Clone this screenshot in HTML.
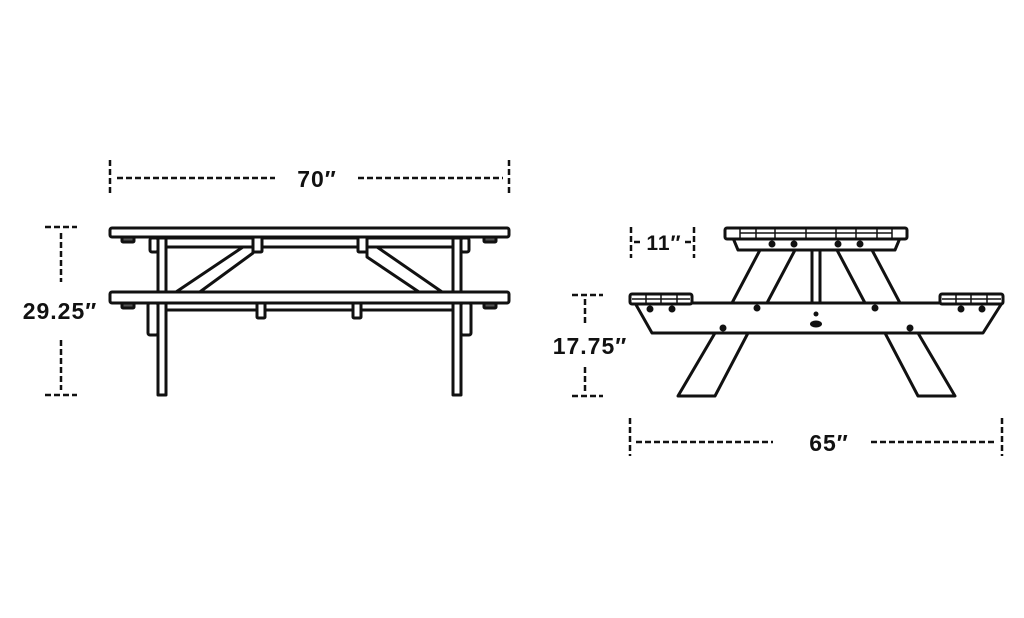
<!DOCTYPE html>
<html><head><meta charset="utf-8"><style>
html,body{margin:0;padding:0;background:#fff;}
svg{display:block}
text{font-family:"Liberation Sans",sans-serif;font-weight:bold;fill:#111;letter-spacing:1px}
</style></head><body>
<svg width="1024" height="618" viewBox="0 0 1024 618" xmlns="http://www.w3.org/2000/svg">
<g stroke="#111" stroke-width="2.5" fill="none" stroke-dasharray="6,3">
<line x1="110" y1="160" x2="110" y2="193"/>
<line x1="509" y1="160" x2="509" y2="193"/>
<line x1="117" y1="178" x2="275" y2="178"/>
<line x1="358" y1="178" x2="503" y2="178"/>
<line x1="45" y1="227" x2="77" y2="227"/>
<line x1="45" y1="395" x2="77" y2="395"/>
<line x1="61" y1="233" x2="61" y2="282"/>
<line x1="61" y1="340" x2="61" y2="390"/>
<line x1="631" y1="227" x2="631" y2="258"/>
<line x1="694" y1="227" x2="694" y2="258"/>
<line x1="634" y1="242" x2="640" y2="242"/>
<line x1="685" y1="242" x2="691" y2="242"/>
<line x1="572" y1="295" x2="603" y2="295"/>
<line x1="572" y1="396" x2="603" y2="396"/>
<line x1="585" y1="299" x2="585" y2="326"/>
<line x1="585" y1="367" x2="585" y2="393"/>
<line x1="630" y1="418" x2="630" y2="456"/>
<line x1="1002" y1="418" x2="1002" y2="456"/>
<line x1="636" y1="442" x2="773" y2="442"/>
<line x1="871" y1="442" x2="996" y2="442"/>
</g>
<text x="317" y="187" font-size="23" text-anchor="middle">70″</text>
<text x="60" y="319" font-size="23" text-anchor="middle">29.25″</text>
<text x="664" y="250" font-size="21" text-anchor="middle">11″</text>
<text x="590" y="354" font-size="23" text-anchor="middle">17.75″</text>
<text x="829" y="451" font-size="23" text-anchor="middle">65″</text>

<g stroke="#111" stroke-width="3" fill="#fff" stroke-linejoin="round">
<rect x="158" y="238" width="8" height="157"/>
<rect x="453" y="238" width="8" height="157"/>
<rect x="166" y="238" width="287" height="9"/>
<rect x="166" y="303" width="287" height="7"/>
<polygon points="173,294 243,247 253,247 253,253 197,294"/>
<polygon points="367,247 377,247 445,294 422,294 367,257"/>
<rect x="150" y="238" width="8" height="14" rx="2"/>
<rect x="461" y="238" width="8" height="14" rx="2"/>
<rect x="253" y="237" width="9" height="15" rx="1"/>
<rect x="358" y="237" width="9" height="15" rx="1"/>
<rect x="257" y="303" width="8" height="15" rx="1"/>
<rect x="353" y="303" width="8" height="15" rx="1"/>
<rect x="148" y="303" width="10" height="32" rx="2"/>
<rect x="461" y="303" width="10" height="32" rx="2"/>
<rect x="122" y="237" width="12" height="5" rx="1" fill="#555"/>
<rect x="484" y="237" width="12" height="5" rx="1" fill="#555"/>
<rect x="122" y="303" width="12" height="5" rx="1" fill="#555"/>
<rect x="484" y="303" width="12" height="5" rx="1" fill="#555"/>
<rect x="110" y="228" width="399" height="9" rx="2"/>
<rect x="110" y="292" width="399" height="11" rx="2"/>
</g>

<g stroke="#111" stroke-width="3" fill="#fff" stroke-linejoin="round">
<polygon points="732,303 760,250 795,250 767,303"/>
<polygon points="837,250 872,250 900,303 865,303"/>
<rect x="812" y="248" width="8" height="56"/>
<polygon points="715,333 748,333 715,396 678,396"/>
<polygon points="885,333 918,333 955,396 918,396"/>
<polygon points="635,303 1002,303 983,333 652,333"/>
<polygon points="733,238 900,238 895,250 738,250"/>
<rect x="725" y="228" width="182" height="11" rx="2"/>
<rect x="630" y="294" width="62" height="10" rx="2"/>
<rect x="940" y="294" width="63" height="10" rx="2"/>
</g>
<g stroke="#111" stroke-width="1.5">
<line x1="740" y1="233" x2="892" y2="233"/>
<line x1="740" y1="228" x2="740" y2="239"/><line x1="756" y1="228" x2="756" y2="239"/>
<line x1="775" y1="228" x2="775" y2="239"/><line x1="806" y1="228" x2="806" y2="239"/>
<line x1="836" y1="228" x2="836" y2="239"/><line x1="856" y1="228" x2="856" y2="239"/>
<line x1="877" y1="228" x2="877" y2="239"/><line x1="892" y1="228" x2="892" y2="239"/>
<line x1="632" y1="299" x2="690" y2="299"/><line x1="942" y1="299" x2="1001" y2="299"/>
<line x1="646" y1="294" x2="646" y2="304"/><line x1="661" y1="294" x2="661" y2="304"/><line x1="677" y1="294" x2="677" y2="304"/>
<line x1="956" y1="294" x2="956" y2="304"/><line x1="971" y1="294" x2="971" y2="304"/><line x1="987" y1="294" x2="987" y2="304"/>
</g>
<g fill="#111">
<circle cx="772" cy="244" r="3.5"/><circle cx="794" cy="244" r="3.5"/><circle cx="838" cy="244" r="3.5"/><circle cx="860" cy="244" r="3.5"/>
<circle cx="650" cy="309" r="3.5"/><circle cx="672" cy="309" r="3.5"/><circle cx="757" cy="308" r="3.5"/><circle cx="875" cy="308" r="3.5"/>
<circle cx="961" cy="309" r="3.5"/><circle cx="982" cy="309" r="3.5"/>
<circle cx="723" cy="328" r="3.5"/><circle cx="910" cy="328" r="3.5"/>
<circle cx="816" cy="314" r="2.5"/><ellipse cx="816" cy="324" rx="6" ry="3.5"/>
</g>
</svg>
</body></html>
